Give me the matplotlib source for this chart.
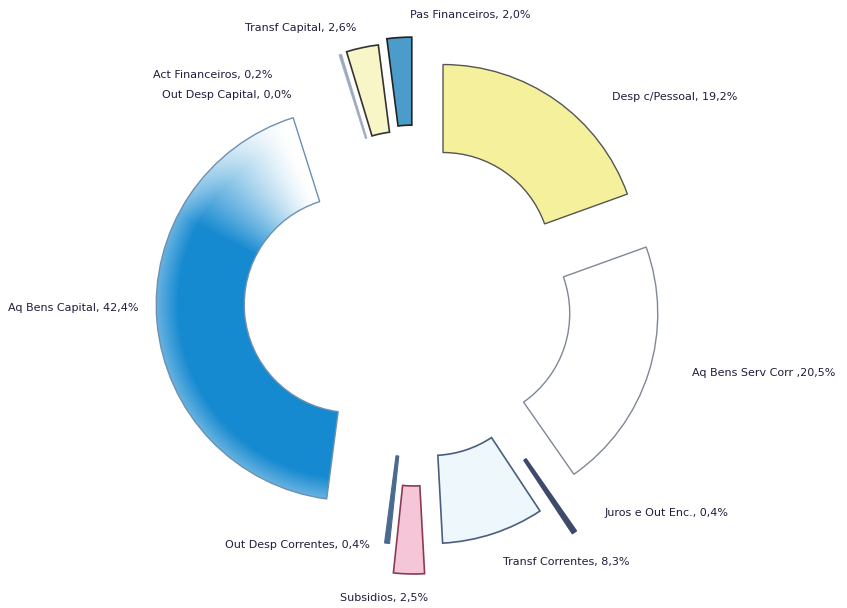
import numpy as np
import matplotlib
matplotlib.use("Agg")
import matplotlib.pyplot as plt

# despesa por rubrica (%), clockwise from 12 o'clock
rubricas = ["Desp c/Pessoal", "Aq Bens Serv Corr ", "Juros e Out Enc.", "Transf Correntes",
            "Subsidios", "Out Desp Correntes", "Aq Bens Capital", "Out Desp Capital",
            "Act Financeiros", "Transf Capital", "Pas Financeiros"]
valores = [19.2, 20.5, 0.4, 8.3, 2.5, 0.4, 42.4, 0.0, 0.2, 2.6, 2.0]
valores_txt = ["19,2%", "20,5%", "0,4%", "8,3%", "2,5%", "0,4%", "42,4%", "0,0%", "0,2%", "2,6%", "2,0%"]

# styling (pixel units, figure is 847x608)
W, H = 847, 608
cx, cy = 416, H - 299
R, ring = 196, 88
offsets = [47, 48, 86, 51, 79, 50, 64, 60, 60, 61, 66]
faces = ["#f5f09c", "#ffffff", "#3d4a6b", "#eef7fb", "#f5c6d8", "#4a6a90",
         "none", "#9aa8c0", "#9aa8c0", "#f8f5c6", "#4c9ccb"]
edges = ["#555555", "#7f8796", "#3d4a6b", "#4a5f80", "#8a3a55", "#4a6a90",
         "#6e8fb0", "#9aa8c0", "#9aa8c0", "#333333", "#222222"]
lws = [1.0, 1.0, 1.0, 1.2, 1.2, 0.8, 1.0, 0.4, 0.4, 1.2, 1.2]
label_pos = [(612, 97), (692, 373), (605, 513), (503, 562), (340, 598), (225, 545),
             (8, 308), (162, 95), (153, 75), (245, 28), (410, 15)]

fig = plt.figure(figsize=(W / 100, H / 100), dpi=100)
ax = fig.add_axes([0, 0, 1, 1])

wedges, _ = ax.pie(valores, explode=offsets, startangle=90, counterclock=False,
                   center=(cx, cy), radius=R, normalize=True,
                   wedgeprops=dict(width=ring))
for w, fc, ec, lw in zip(wedges, faces, edges, lws):
    w.set_facecolor(fc)
    w.set_edgecolor(ec)
    w.set_linewidth(lw)

# blue capital slice: faded gradient like the scanned original
wb = wedges[rubricas.index("Aq Bens Capital")]
bx, by = wb.center
xs = np.linspace(bx - R, bx + R, 400)
ys = np.linspace(by - R, by + R, 400)
X, Y = np.meshgrid(xs, ys)
ang = np.degrees(np.arctan2(Y - by, X - bx)) % 360
rr = np.hypot(X - bx, Y - by)
top = min(wb.theta1 % 360, wb.theta2 % 360)
s = np.clip((ang - top - 3) / 42, 0, 1) ** 1.3
s = s * (1 - 0.35 * np.clip((rr - (R - 22)) / 22, 0, 1))
blue = np.array([22, 138, 208]) / 255
white = np.array([1.0, 1.0, 1.0])
img = white[None, None, :] * (1 - s[..., None]) + blue[None, None, :] * s[..., None]
im = ax.imshow(img, extent=[bx - R, bx + R, by - R, by + R], origin="lower",
               zorder=0.5, interpolation="bilinear")
im.set_clip_path(wb)

for nome, txt, (lx, ly) in zip(rubricas, valores_txt, label_pos):
    ax.text(lx, H - ly, nome.rstrip() + (" ," if nome.endswith(" ") else ", ") + txt,
            ha="left", va="center", fontsize=8, color="#1e1e3c")

ax.set_xlim(0, W)
ax.set_ylim(0, H)
ax.set_aspect("equal")
ax.axis("off")

fig.savefig("out.png", dpi=100)
